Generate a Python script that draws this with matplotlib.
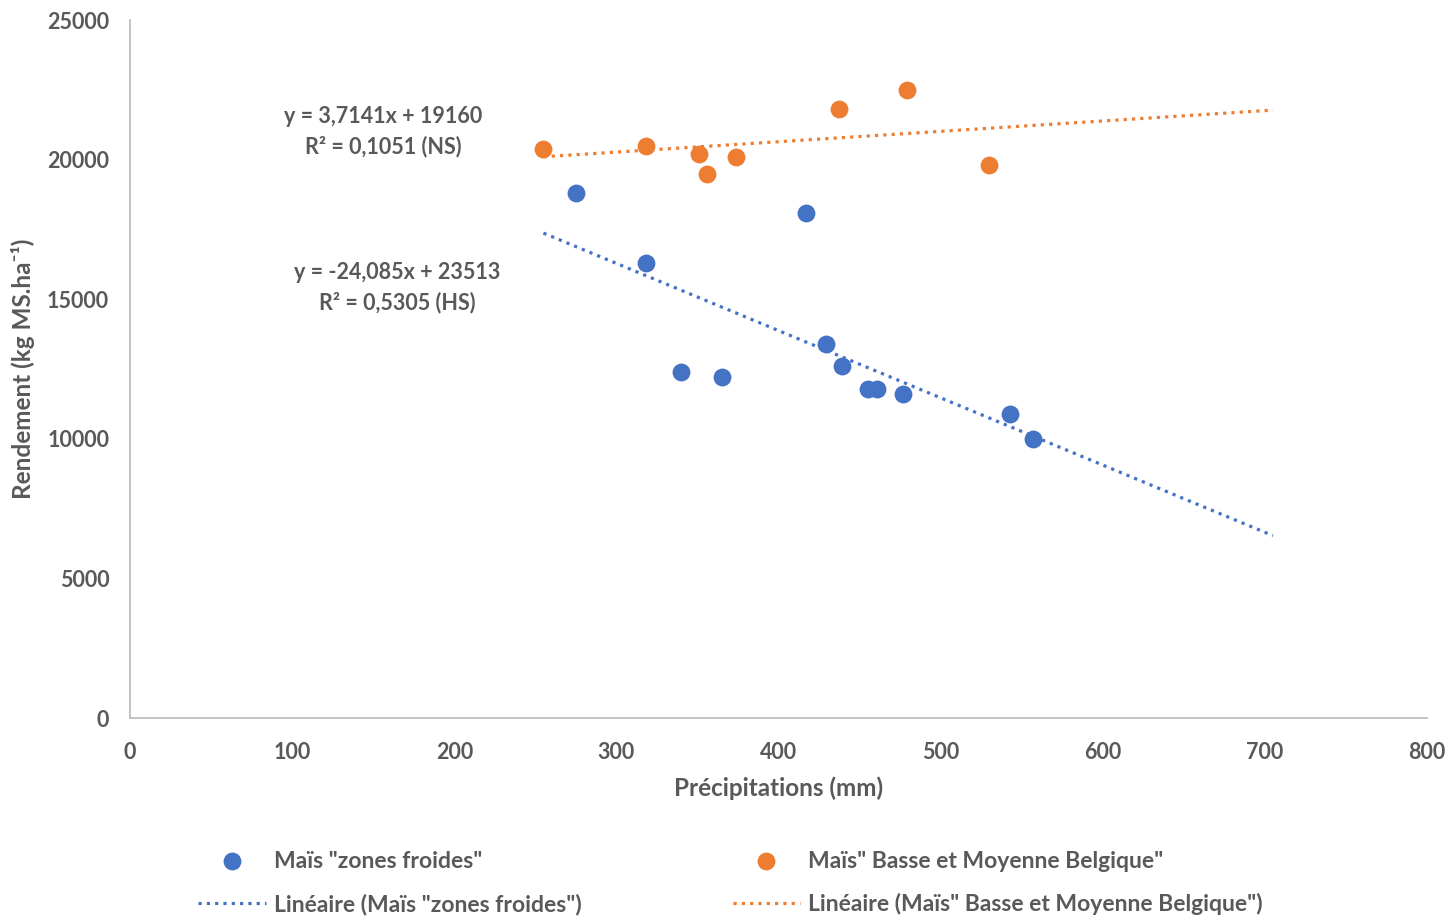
import numpy as np
import matplotlib.pyplot as plt

# données
precip_froid = [275, 318, 340, 365, 417, 429, 439, 455, 461, 477, 543, 557]
rdt_froid = [18800, 16300, 12400, 12200, 18100, 13400, 12600, 11800, 11800, 11600, 10900, 10000]

precip_bmb = [255, 318, 351, 356, 374, 437, 479, 530]
rdt_bmb = [20400, 20500, 20200, 19500, 20100, 21800, 22500, 19800]

# droites de tendance (équations affichées)
coef_froid = (-24.085, 23513)
coef_bmb = (3.7141, 19160)
trend_x = [255, 705]

lbl_froid = 'Maïs "zones froides"'
lbl_bmb = 'Maïs" Basse et Moyenne Belgique"'
eq_froid = 'y = -24,085x + 23513\nR² = 0,5305 (HS)'
eq_bmb = 'y = 3,7141x + 19160\nR² = 0,1051 (NS)'

blue = '#4472C4'
orange = '#ED7D31'
grey = '#595959'

plt.rcParams['font.family'] = ['Lato', 'DejaVu Sans']
plt.rcParams['font.weight'] = 'bold'

fig = plt.figure(figsize=(14.48, 9.17), dpi=100)
ax = fig.add_axes([0.0898, 0.217, 0.8957, 0.761])

ax.scatter(precip_froid, rdt_froid, s=165, color=blue, zorder=3, label=lbl_froid, linewidths=0)
ax.scatter(precip_bmb, rdt_bmb, s=165, color=orange, zorder=3, label=lbl_bmb, linewidths=0)

tx = np.array(trend_x, dtype=float)
ax.plot(tx, coef_froid[0] * tx + coef_froid[1], color=blue, lw=2.3,
        linestyle=(0, (1, 1.6)), label='Linéaire (' + lbl_froid + ')')
ax.plot(tx, coef_bmb[0] * tx + coef_bmb[1], color=orange, lw=2.3,
        linestyle=(0, (1, 1.6)), label='Linéaire (' + lbl_bmb + ')')

ax.text(156, 21000, eq_bmb, ha='center', va='center', fontsize=15.5, color=grey,
        fontweight='bold', linespacing=1.45)
ax.text(165, 15420, eq_froid, ha='center', va='center', fontsize=15.5, color=grey,
        fontweight='bold', linespacing=1.45)

ax.set_xlim(0, 800)
ax.set_ylim(0, 25000)
ax.set_xticks(range(0, 801, 100))
ax.set_yticks(range(0, 25001, 5000))
ax.tick_params(length=0, labelsize=15.5, labelcolor=grey)
ax.tick_params(axis='x', pad=17)
ax.tick_params(axis='y', pad=15)
for lab in ax.get_xticklabels() + ax.get_yticklabels():
    lab.set_fontweight('bold')
for s in ['top', 'right']:
    ax.spines[s].set_visible(False)
for s in ['left', 'bottom']:
    ax.spines[s].set_color('#BFBFBF')
    ax.spines[s].set_linewidth(1.3)

ax.set_xlabel('Précipitations (mm)', fontsize=17.5, color=grey, fontweight='bold', labelpad=10)
ax.set_ylabel('Rendement (kg MS.ha⁻¹)', fontsize=17.5, color=grey,
              fontweight='bold', labelpad=9)

h, l = ax.get_legend_handles_labels()
order = [0, 2, 1, 3]
leg = fig.legend([h[i] for i in order], [l[i] for i in order], ncol=2,
                 loc='upper left', bbox_to_anchor=(0.1225, 0.095), frameon=False,
                 fontsize=16.5, handlelength=2.95, columnspacing=6.6, labelspacing=0.95,
                 handletextpad=0.35)
for t in leg.get_texts():
    t.set_color(grey)
    t.set_fontweight('bold')

fig.savefig('out.png', dpi=100)
